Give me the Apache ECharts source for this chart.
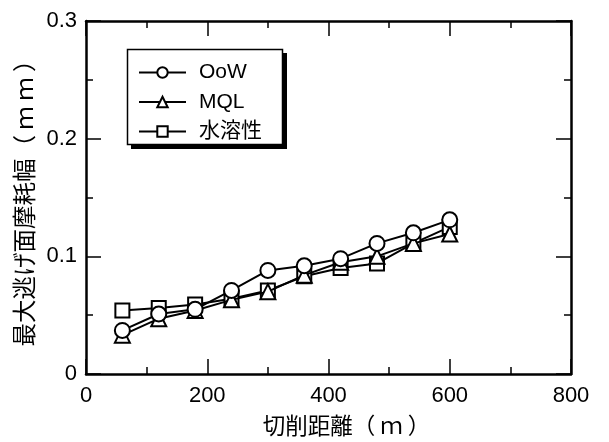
<!DOCTYPE html>
<html><head><meta charset="utf-8">
<script src="https://cdn.jsdelivr.net/npm/echarts@6/dist/echarts.min.js"></script>
<style>html,body{margin:0;padding:0;background:#fff}#c{width:609px;height:442px}</style>
</head><body><div id="c"></div>
<script>
const distances = [60,120,180,240,300,360,420,480,540,600];
const oow   = [0.037,0.051,0.055,0.071,0.088,0.092,0.098,0.111,0.120,0.131];
const mql   = [0.033,0.047,0.054,0.063,0.070,0.084,0.095,0.100,0.111,0.119];
const water = [0.054,0.056,0.059,0.064,0.071,0.083,0.090,0.094,0.111,0.125];
const names = ['OoW','MQL','水溶性'];
const symbols = ['circle','triangle','rect'];
const xTicks = [0,200,400,600,800];
const yTicks = [0,0.1,0.2,0.3];

const font = '"Liberation Sans", Arial, "Noto Sans CJK JP", sans-serif';
const cjk = '"Noto Sans CJK JP", "Liberation Sans", sans-serif';
const chart = echarts.init(document.getElementById('c'));
function pair(arr){ return distances.map((d,i)=>[d,arr[i]]); }
const axBase = {
  axisLine:{show:true,onZero:false,lineStyle:{color:'#000',width:2.5}},
  axisTick:{show:true,inside:true,length:15,lineStyle:{color:'#000',width:1.5}},
  minorTick:{show:true,splitNumber:2,length:7,lineStyle:{color:'#000',width:1.5}},
  splitLine:{show:false}
};
const mk = (arr,i,z)=>({
  name:names[i], type:'line', data:pair(arr), symbol:symbols[i],
  symbolSize: i===2?14:15, z:z,
  lineStyle:{color:'#000',width:2}, itemStyle:{color:'#fff',borderColor:'#000',borderWidth:2},
  emphasis:{disabled:true}, animation:false
});
chart.setOption({
  animation:false,
  grid:{left:86,right:38,top:21,bottom:68},
  graphic:[
    {type:'rect',shape:{x:131,y:53,width:156,height:96},style:{fill:'#000'},z:1},
    {type:'rect',shape:{x:127.5,y:49.5,width:155,height:95},style:{fill:'#fff',stroke:'#000',lineWidth:1.5},z:2}
  ],
  legend:{
    data:names, orient:'vertical', left:138, top:62,
    itemWidth:47, itemHeight:13, itemGap:8.5, padding:0,
    textStyle:{fontSize:21,lineHeight:21,color:'#000',fontFamily:font,padding:[0,0,0,8]},
    selectedMode:false, z:5
  },
  xAxis:[
    Object.assign({}, axBase, {type:'value',min:0,max:800,interval:200,
      name:'切削距離（ ｍ ）',nameLocation:'middle',nameGap:40,
      nameTextStyle:{fontSize:22.5,color:'#000',fontFamily:cjk,padding:[0,0,0,36]},
      axisLabel:{fontSize:22,color:'#000',fontFamily:font,margin:11,
        formatter:v=>xTicks.includes(v)?String(v):''}}),
    Object.assign({}, axBase, {type:'value',min:0,max:800,interval:200,position:'top',axisLabel:{show:false}})
  ],
  yAxis:[
    Object.assign({}, axBase, {type:'value',min:0,max:0.3,interval:0.1,
      name:'最大逃げ面摩耗幅（ ｍ ｍ ）',nameLocation:'middle',nameGap:50,
      nameTextStyle:{fontSize:23.5,color:'#000',fontFamily:cjk},
      axisLabel:{fontSize:22,color:'#000',fontFamily:font,margin:9,
        formatter:v=>{const t=yTicks.find(y=>Math.abs(y-v)<1e-9);return t===undefined?'':(t===0?'0':t.toFixed(1));}}}),
    Object.assign({}, axBase, {type:'value',min:0,max:0.3,interval:0.1,position:'right',axisLabel:{show:false}})
  ],
  series:[ mk(oow,0,5), mk(mql,1,4), mk(water,2,3) ]
});
</script></body></html>
